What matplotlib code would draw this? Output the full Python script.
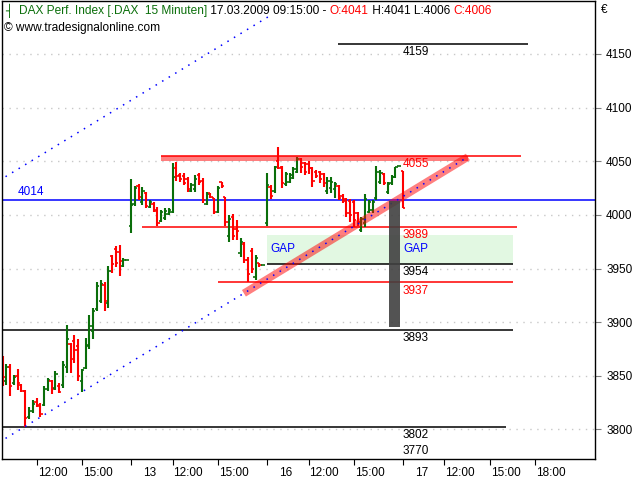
import matplotlib
matplotlib.use("Agg")
import matplotlib.pyplot as plt
import matplotlib.transforms as mtransforms
from matplotlib.patches import Rectangle

plt.rcParams['font.family'] = ['Liberation Sans', 'DejaVu Sans']

# 15 minute slots, 36 per day (09:15 .. 18:00), slot 0 = 12.03 09:15
first_slot = 2
opens = [3862, 3845, 3858, 3843, 3850, 3841, 3836, 3812, 3817, 3826, 3823, 3823, 3838, 3845, 3839, 3840,
         3841, 3858, 3880, 3882, 3878, 3845, 3857, 3879, 3892, 3912, 3920, 3935, 3918, 3962, 3968, 3965,
         3952, 3958,
         3990, 4010, 4027, 4012, 4020, 4007, 4010, 4005, 3994, 3997, 4001, 4003, 4044, 4037, 4036, 4033,
         4022, 4024, 4037, 4032, 4010, 4020, 4016, 4003, 4031, 4017, 3980, 3998, 3987, 3964, 3973, 3958,
         3966, 3942, 3955, 3953,
         3992, 4026, 4022, 4050, 4045, 4029, 4031, 4034, 4040, 4052, 4048, 4047, 4044, 4040, 4040, 4038,
         4022, 4025, 4024, 4027, 4018, 4015, 4013, 4012, 4002, 3986, 3992, 4003, 4005, 4016, 4031, 4038,
         4021, 4030, 4035, 4046,
         4041]
highs = [3868, 3861, 3861, 3851, 3856, 3842, 3837, 3821, 3827, 3829, 3825, 3840, 3848, 3846, 3854, 3843,
         3864, 3897, 3881, 3888, 3884, 3856, 3885, 3907, 3913, 3937, 3939, 3937, 3952, 3963, 3971, 3972,
         3960, 3958,
         4033, 4027, 4029, 4026, 4021, 4014, 4012, 4007, 4005, 4006, 4006, 4048, 4049, 4039, 4039, 4035,
         4030, 4037, 4039, 4034, 4021, 4020, 4016, 4027, 4031, 4017, 4000, 4001, 3995, 3978, 3975, 3961,
         3969, 3963, 3955, 3953,
         4039, 4028, 4046, 4063, 4046, 4040, 4039, 4045, 4054, 4053, 4049, 4050, 4045, 4042, 4041, 4039,
         4035, 4035, 4031, 4028, 4019, 4016, 4015, 4014, 4003, 3998, 4019, 4014, 4014, 4046, 4042, 4039,
         4031, 4037, 4045, 4046,
         4041]
lows = [3840, 3841, 3831, 3841, 3837, 3835, 3802, 3810, 3815, 3821, 3812, 3822, 3836, 3833, 3837, 3834,
        3839, 3853, 3853, 3862, 3845, 3835, 3856, 3875, 3884, 3910, 3918, 3910, 3913, 3946, 3951, 3943,
        3951, 3958,
        3983, 4008, 4014, 4009, 4006, 4006, 4003, 3990, 3993, 3995, 4000, 4002, 4032, 4031, 4028, 4021,
        4021, 4021, 4028, 4011, 4009, 4016, 4001, 4002, 4025, 3990, 3975, 3977, 3977, 3961, 3955, 3937,
        3946, 3939, 3951, 3953,
        3990, 4015, 4020, 4043, 4025, 4027, 4030, 4033, 4039, 4039, 4037, 4038, 4026, 4034, 4030, 4026,
        4019, 4020, 4016, 4014, 4011, 3998, 3993, 3989, 3990, 3984, 3989, 4002, 4002, 4014, 4029, 4028,
        4019, 4028, 4034, 4046,
        4006]
closes = [3849, 3858, 3840, 3849, 3843, 3836, 3811, 3817, 3824, 3822, 3814, 3838, 3846, 3838, 3852, 3835,
          3860, 3884, 3866, 3874, 3850, 3855, 3878, 3896, 3910, 3934, 3936, 3920, 3948, 3954, 3955, 3957,
          3958, 3958,
          4009, 4025, 4017, 4022, 4008, 4012, 4004, 3992, 4003, 4004, 4005, 4035, 4036, 4033, 4030, 4024,
          4028, 4033, 4031, 4014, 4019, 4017, 4003, 4025, 4027, 3993, 3996, 3980, 3985, 3975, 3958, 3945,
          3950, 3960, 3953, 3953,
          4028, 4018, 4045, 4044, 4030, 4038, 4037, 4043, 4052, 4045, 4040, 4044, 4032, 4036, 4033, 4030,
          4032, 4031, 4029, 4016, 4013, 4002, 4000, 3995, 3993, 3996, 4015, 4012, 4012, 4040, 4039, 4030,
          4029, 4035, 4045, 4046,
          4006]
slots = list(range(first_slot, first_slot + len(closes)))

tick_slots = [11, 23, 36, 47, 59, 72, 83, 95, 108, 119, 131, 143]
tick_labels = ["12:00", "15:00", "13", "12:00", "15:00", "16", "12:00", "15:00", "17", "12:00", "15:00", "18:00"]
price_ticks = [3800, 3850, 3900, 3950, 4000, 4050, 4100, 4150]

level_prices = [4159, 4055, 3989, 3954, 3937, 3893, 3802, 3770]
level_colors = ["black", "red", "red", "black", "red", "black", "black", "black"]
level_from = [90.8, 43.9, 38.9, 72, 59, 0, 0, None]
level_to = [141.1, 139.2, 138.2, 137.1, 137.1, 137.1, 135.3, None]

support = 4014
gap_low, gap_high = 3954, 3981
trend_a = (3.52, 3793.2)
trend_b = (125.2, 4054.0)
channel_width = 244
vol_bar = (104.3, 107.2, 3895, 4013)

GREEN = "#0a6e0a"
FS = 8.5
fig = plt.figure(figsize=(6.4, 4.8), dpi=100)
ax = fig.add_axes([2 / 640, 21 / 480, 593 / 640, 458 / 480])
ax.set_xlim(1.85, 158.85)
ax.set_ylim(3772.4, 4199.4)

for p in price_ticks:
    ax.axhline(p, color="#c8c8c8", lw=1, ls=(0, (1, 4)), zorder=0)

# gap zone
ax.add_patch(Rectangle((72, gap_low), 137.1 - 72, gap_high - gap_low, color="#e2f8e2", lw=0, zorder=0.5))

# horizontal levels
for p, c, a, b in zip(level_prices, level_colors, level_from, level_to):
    if a is not None:
        ax.hlines(p, a, b, color=c, lw=1.1, zorder=1)
ax.axhline(support, color="#0000ff", lw=1.1, zorder=1)
ax.add_patch(Rectangle((43.9, 4050), 125.2 - 43.9, 5, color="red", alpha=0.5, lw=0, zorder=3))

# OHLC bars
for s, o, h, l, c in zip(slots, opens, highs, lows, closes):
    col = GREEN if c >= o else "#ff0000"
    ax.vlines(s, l, h, color=col, lw=1.5, zorder=2)
    ax.hlines(o, s - 0.6, s, color=col, lw=1.2, zorder=2)
    ax.hlines(c, s, s + 0.6, color=col, lw=1.2, zorder=2)

# trend lines
slope = (trend_b[1] - trend_a[1]) / (trend_b[0] - trend_a[0])
x0, x1 = 0.0, trend_b[0]
ax.plot([x0, x1], [trend_a[1] + slope * (x0 - trend_a[0]), trend_b[1]],
        color="#0000ff", lw=1.1, ls=(0, (1, 4)), zorder=4)
x2 = 73.0
ax.plot([x0, x2], [trend_a[1] + slope * (x0 - trend_a[0]) + channel_width,
                   trend_a[1] + slope * (x2 - trend_a[0]) + channel_width],
        color="#0000ff", lw=1.1, ls=(0, (1, 4)), zorder=4)
band_x = [65.9, trend_b[0]]
ax.plot(band_x, [trend_a[1] + slope * (band_x[0] - trend_a[0]), trend_b[1]],
        color="red", alpha=0.5, lw=5.5, solid_capstyle="butt", zorder=3)

# dark bar
ax.add_patch(Rectangle((vol_bar[0], vol_bar[2]), vol_bar[1] - vol_bar[0], vol_bar[3] - vol_bar[2],
                       color="#404040", alpha=0.9, lw=0, zorder=5))

# level labels
down = mtransforms.offset_copy(ax.transData, fig=fig, x=0, y=-1.5, units="points")
for p, c in zip(level_prices, level_colors):
    if p > 3775:
        ax.text(108, p, str(p), color=c, fontsize=FS, va="top", ha="left", transform=down, zorder=6)
    else:
        ax.text(108, 3774, str(p), color=c, fontsize=FS, va="bottom", ha="left", zorder=6)
ax.text(108, 3968, "GAP", color="#0000ff", fontsize=FS, va="center", ha="left", zorder=6)
ax.text(72.8, 3968, "GAP", color="#0000ff", fontsize=FS, va="center", ha="left", zorder=6)
up = mtransforms.offset_copy(ax.transData, fig=fig, x=0, y=1.5, units="points")
ax.text(6.1, support, str(support), color="#0000ff", fontsize=FS, va="bottom", ha="left", transform=up)

# axes
for sp in ax.spines.values():
    sp.set_linewidth(1.0)
ax.yaxis.tick_right()
ax.set_yticks(price_ticks)
ax.set_yticklabels([str(p) for p in price_ticks], fontsize=FS)
ax.tick_params(axis="y", length=4, color="#808080", pad=4)
ax.set_xticks(tick_slots)
ax.set_xticklabels(tick_labels, fontsize=FS)
ax.tick_params(axis="x", length=4, pad=2)
for lab, txt in zip(ax.get_xticklabels(), tick_labels):
    lab.set_ha("left")
    dx = 1 if ":" in txt else 12
    lab.set_transform(lab.get_transform() + mtransforms.ScaledTranslation(dx / 100, 0, fig.dpi_scale_trans))

# header
fig.text(5 / 640, 1 - 11 / 480, "┤", color=GREEN, fontsize=FS, va="center", family="DejaVu Sans")
parts = [("DAX Perf. Index [.DAX  15 Minuten]", GREEN), (" 17.03.2009 09:15:00 - ", "black"),
         ("O:4041", "red"), (" H:4041 L:4006 ", "black"), ("C:4006", "red")]
t = fig.text(19 / 640, 1 - 11 / 480, parts[0][0], color=parts[0][1], fontsize=8.6, va="center")
for txt, col in parts[1:]:
    t = ax.annotate(txt, xy=(1, 0), xycoords=t, va="bottom", ha="left", color=col, fontsize=8.6,
                    annotation_clip=False)
fig.text(4 / 640, 1 - 28 / 480, "© www.tradesignalonline.com", color="black", fontsize=8.6, va="center")
fig.text(601 / 640, 1 - 10 / 480, "€", color="black", fontsize=FS, va="center")

fig.savefig("out.png", dpi=100)
